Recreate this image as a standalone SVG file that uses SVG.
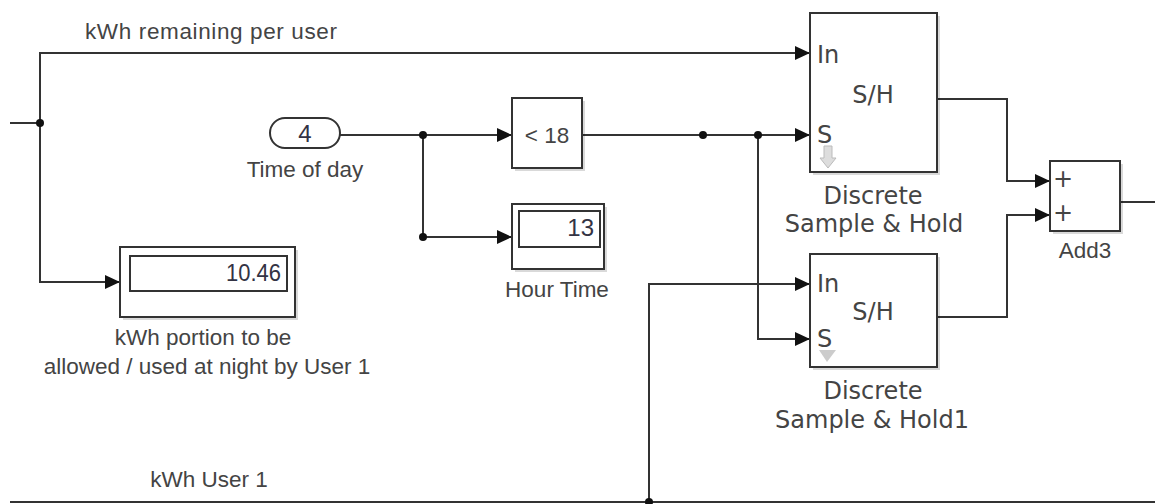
<svg xmlns="http://www.w3.org/2000/svg" width="1155" height="504" viewBox="0 0 1155 504">
<style>
.ln{fill:none;stroke:#333;stroke-width:2}
.blk{fill:#fff;stroke:#333;stroke-width:2}
.sh{fill:#000;opacity:0.15}
.lbl{font-family:"Liberation Sans",Arial,sans-serif;font-size:22.5px;fill:#444}
.vd{font-family:"DejaVu Sans",Verdana,sans-serif;font-size:24px;fill:#444}
.num{font-family:"Liberation Sans",Arial,sans-serif;font-size:24px;fill:#334}
.dot{fill:#111}
</style>
<defs>
<marker id="ar" markerUnits="userSpaceOnUse" markerWidth="16" markerHeight="16" refX="15" refY="7" orient="auto">
<path d="M0,0 L15,7 L0,14 z" fill="#111"/>
</marker>
</defs>
<rect width="1155" height="504" fill="#fff"/>

<g id="connectors">
<path class="ln" d="M10,123 H40"/>
<path class="ln" d="M40,123 V53 H810" marker-end="url(#ar)"/>
<path class="ln" d="M40,123 V282 H120" marker-end="url(#ar)"/>
<path class="ln" d="M340,135 H512" marker-end="url(#ar)"/>
<path class="ln" d="M423,135 V237 H512" marker-end="url(#ar)"/>
<path class="ln" d="M582,135 H810" marker-end="url(#ar)"/>
<path class="ln" d="M758,135 V339 H810" marker-end="url(#ar)"/>
<path class="ln" d="M10,502 H1155"/>
<path class="ln" d="M649,502 V284 H810" marker-end="url(#ar)"/>
<path class="ln" d="M937,99 H1007 V181 H1050" marker-end="url(#ar)"/>
<path class="ln" d="M937,317 H1007 V215 H1050" marker-end="url(#ar)"/>
<path class="ln" d="M1120,202 H1155"/>
<circle class="dot" cx="40" cy="123" r="4"/>
<circle class="dot" cx="423" cy="135" r="4"/>
<circle class="dot" cx="423" cy="237" r="4"/>
<circle class="dot" cx="703" cy="135" r="4"/>
<circle class="dot" cx="758" cy="135" r="4"/>
<circle class="dot" cx="649" cy="502" r="4"/>
<text class="lbl" x="85" y="39" textLength="252" lengthAdjust="spacing">kWh remaining per user</text>
<text class="lbl" x="209" y="487" text-anchor="middle">kWh User 1</text>
</g>

<g id="time-of-day">
<rect class="blk" x="270" y="118" width="70" height="30" rx="15"/>
<text class="num" x="305" y="142" text-anchor="middle" font-size="25">4</text>
<text class="lbl" x="305" y="177" text-anchor="middle">Time of day</text>
</g>

<g id="compare">
<rect class="sh" x="515" y="101" width="70" height="70"/>
<rect class="blk" x="512" y="98" width="70" height="70"/>
<text class="lbl" x="547" y="143" text-anchor="middle" font-size="25">&lt; 18</text>
</g>

<g id="hour-time">
<rect class="sh" x="515" y="207" width="92" height="65"/>
<rect class="blk" x="512" y="204" width="92" height="65"/>
<rect class="blk" x="519" y="211" width="81" height="36"/>
<text class="num" x="594" y="236" text-anchor="end">13</text>
<text class="lbl" x="557" y="297" text-anchor="middle">Hour Time</text>
</g>

<g id="kwh-portion">
<rect class="sh" x="123" y="250" width="175" height="70"/>
<rect class="blk" x="120" y="247" width="175" height="70"/>
<rect class="blk" x="130" y="256" width="157" height="35"/>
<text class="num" x="226" y="281" textLength="55" lengthAdjust="spacingAndGlyphs">10.46</text>
<text class="lbl" x="203" y="345" text-anchor="middle">kWh portion to be</text>
<text class="lbl" x="207" y="374" text-anchor="middle">allowed / used at night by User 1</text>
</g>

<g id="sh1">
<rect class="sh" x="813" y="16" width="127" height="159"/>
<rect class="blk" x="810" y="13" width="127" height="159"/>
<text class="vd" x="817" y="63" font-size="23">In</text>
<text class="vd" x="873" y="103" text-anchor="middle" font-size="25">S/H</text>
<text class="vd" x="817" y="143" font-size="23">S</text>
<path d="M824,146 H832 V158 H836 L828,168 L820,158 H824 z" fill="#ddd" stroke="#bbb" stroke-width="1"/>
<text class="vd" x="873" y="204" text-anchor="middle">Discrete</text>
<text class="vd" x="874" y="232" text-anchor="middle">Sample &amp; Hold</text>
</g>

<g id="sh2">
<rect class="sh" x="813" y="257" width="127" height="113"/>
<rect class="blk" x="810" y="254" width="127" height="113"/>
<text class="vd" x="817" y="292" font-size="23">In</text>
<text class="vd" x="873" y="320" text-anchor="middle" font-size="25">S/H</text>
<text class="vd" x="817" y="347" font-size="23">S</text>
<path d="M819,350 H836 L827,362 z" fill="#ccc"/>
<text class="vd" x="873" y="399" text-anchor="middle">Discrete</text>
<text class="vd" x="872" y="428" text-anchor="middle">Sample &amp; Hold1</text>
</g>

<g id="add3">
<rect class="sh" x="1053" y="164" width="70" height="70"/>
<rect class="blk" x="1050" y="161" width="70" height="70"/>
<text class="vd" x="1063" y="187" text-anchor="middle" font-size="17">+</text>
<text class="vd" x="1063" y="221" text-anchor="middle" font-size="17">+</text>
<text class="lbl" x="1085" y="258" text-anchor="middle" font-size="20">Add3</text>
</g>
</svg>
